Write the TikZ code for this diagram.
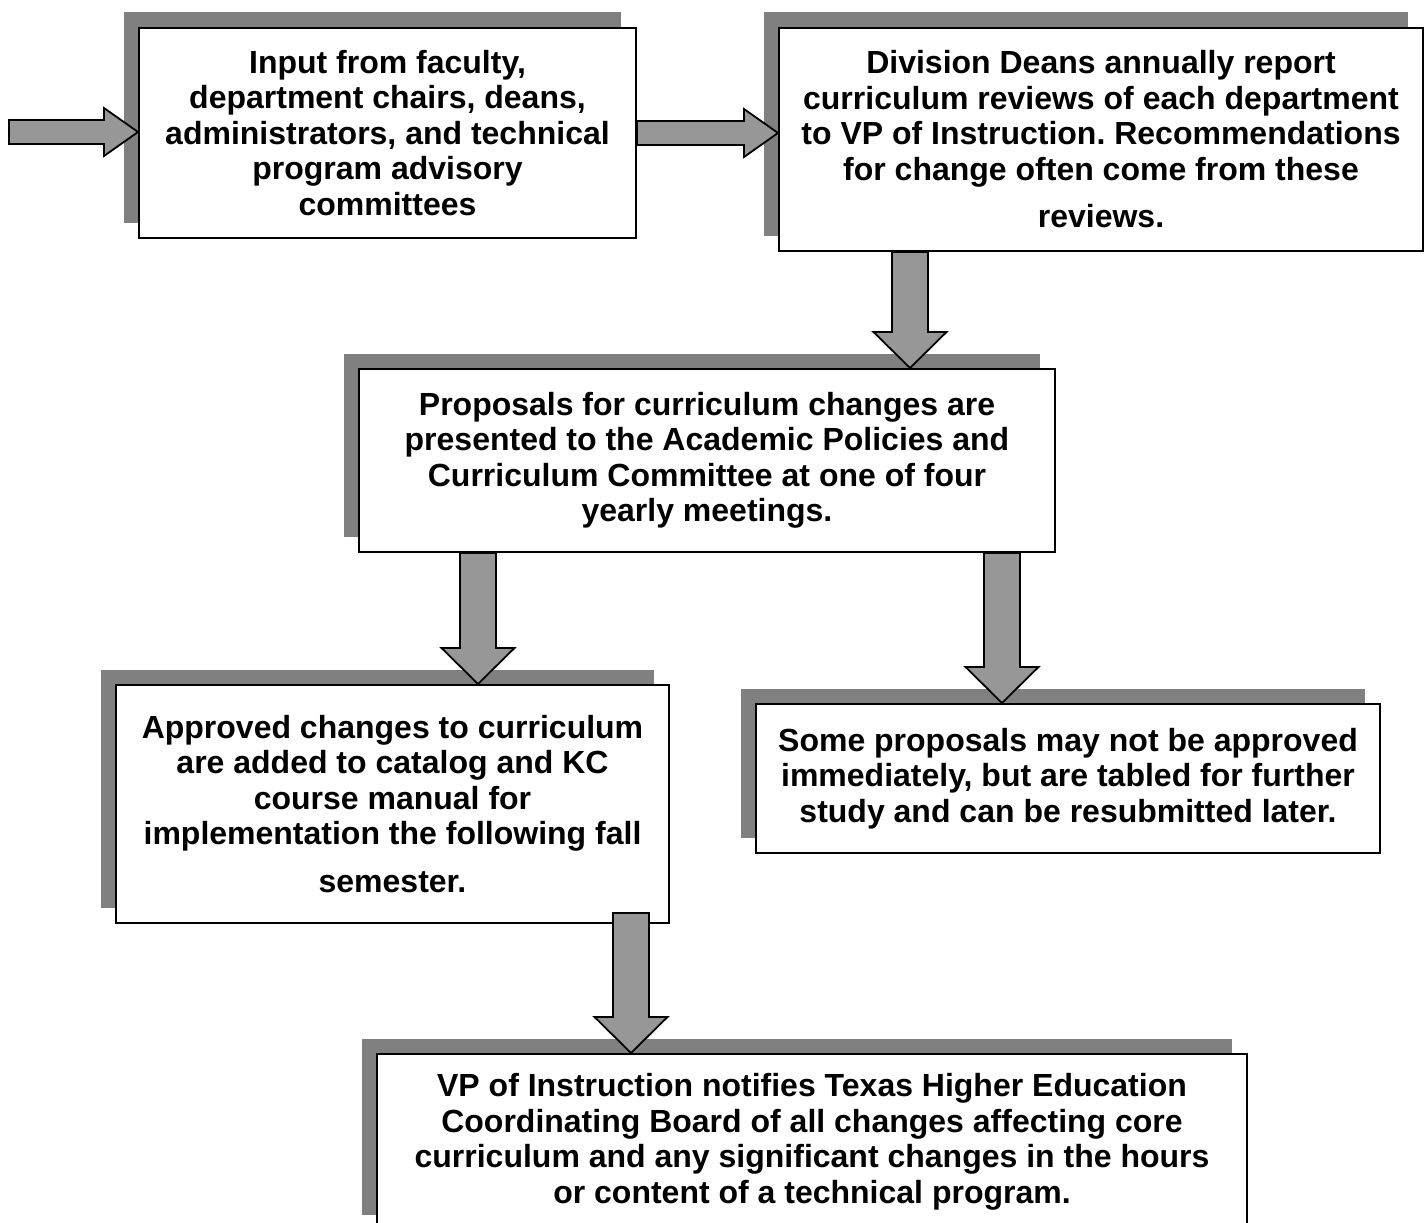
\documentclass[tikz,border=0pt]{standalone}
\usepackage{fontspec}
\setmainfont{Liberation Sans}
\usetikzlibrary{calc, shadows}

\definecolor{shadowgray}{HTML}{808080}
\definecolor{arrowgray}{HTML}{979797}
\frenchspacing

\begin{document}
\begin{tikzpicture}[
    x=1pt, y=-1pt,
    box/.style={draw, fill=white, line width=2pt, inner sep=0pt, align=center, anchor=north west,
      font=\bfseries\fontsize{32}{35.5}\selectfont,
      drop shadow={shadow xshift=-15.5pt, shadow yshift=15.5pt, fill=shadowgray, opacity=1}},
    rarr/.style={draw, fill=arrowgray, line width=1.8pt, line join=miter, to path={
      let \p1=(\tikztostart), \p2=(\tikztotarget) in
      (\x1,\y1-12pt) -- (\x2-34pt,\y1-12pt) -- (\x2-34pt,\y1-24pt) -- (\x2,\y1)
      -- (\x2-34pt,\y1+24pt) -- (\x2-34pt,\y1+12pt) -- (\x1,\y1+12pt) -- cycle}},
    darr/.style={draw, fill=arrowgray, line width=1.8pt, line join=miter, to path={
      let \p1=(\tikztostart), \p2=(\tikztotarget) in
      (\x1-18pt,\y1) -- (\x1-18pt,\y2+36pt) -- (\x1-36.5pt,\y2+36pt) -- (\x1,\y2)
      -- (\x1+36.5pt,\y2+36pt) -- (\x1+18pt,\y2+36pt) -- (\x1+18pt,\y1) -- cycle}}
  ]
  \useasboundingbox (0,0) rectangle (1424,1223);

  \node[box, minimum width=497pt, minimum height=210pt] (input) at (138,27)
    {Input from faculty,\\ department chairs, deans,\\ administrators, and technical\\
     program advisory\\ committees};
  \node[box, minimum width=644pt, minimum height=223pt] (deans) at (778,27)
    {Division Deans annually report\\ curriculum reviews of each department\\
     to VP of Instruction. Recommendations\\ for change often come from these\\[12pt] reviews.};
  \node[box, minimum width=696pt, minimum height=183pt] (prop) at (358,368)
    {Proposals for curriculum changes are\\ presented to the Academic Policies and\\
     Curriculum Committee at one of four\\ yearly meetings.};
  \node[box, minimum width=553pt, minimum height=238pt] (appr) at (115,684)
    {Approved changes to curriculum\\ are added to catalog and KC\\ course manual for\\
     implementation the following fall\\[12pt] semester.};
  \node[box, minimum width=624pt, minimum height=149pt] (some) at (755,703)
    {Some proposals may not be approved\\ immediately, but are tabled for further\\
     study and can be resubmitted later.};
  \node[box, minimum width=870pt, minimum height=176pt] (vp) at (376,1053)
    {VP of Instruction notifies Texas Higher Education\\ Coordinating Board of all changes affecting core\\
     curriculum and any significant changes in the hours\\ or content of a technical program.};

  \coordinate (in) at (9,132);
  \draw[rarr] (in) to (input.west);
  \draw[rarr] (input.east) to (deans.west);
  \draw[darr] ([xshift=132pt]deans.south west) to (prop.north);
  \draw[darr] ([xshift=120pt]prop.south west) to (appr.north);
  \draw[darr] ([xshift=644pt]prop.south west) to (some.north);
  \draw[darr] ([xshift=516pt, yshift=11pt]appr.south west) to (vp.north);

\end{tikzpicture}
\end{document}
